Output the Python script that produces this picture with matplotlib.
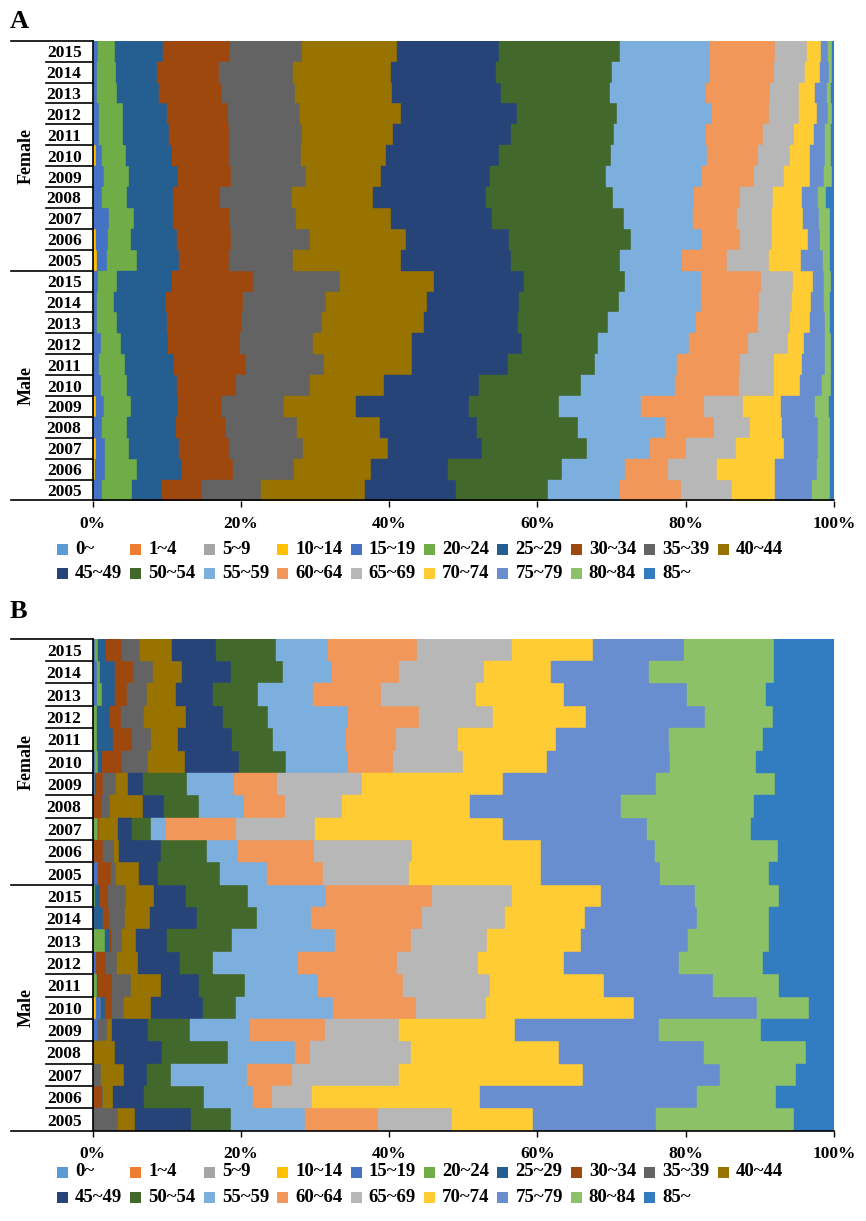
import numpy as np
import matplotlib
matplotlib.use("Agg")
import matplotlib.pyplot as plt
from matplotlib.patches import Rectangle

plt.rcParams['font.family'] = ['Liberation Serif', 'DejaVu Serif']
plt.rcParams['font.weight'] = 'bold'

# ---------------- data ----------------
age_groups = ['0~', '1~4', '5~9', '10~14', '15~19', '20~24', '25~29', '30~34', '35~39', '40~44',
              '45~49', '50~54', '55~59', '60~64', '65~69', '70~74', '75~79', '80~84', '85~']
colors = ['#5B9BD5', '#ED7D31', '#A5A5A5', '#FFC000', '#4472C4', '#70AD47', '#255E91', '#9E480E',
          '#636363', '#997300', '#264478', '#43682B', '#7CAFDD', '#F1975A', '#B7B7B7', '#FFCD33',
          '#698ED0', '#8CC168', '#327DC2']
years = ['2015', '2014', '2013', '2012', '2011', '2010', '2009', '2008', '2007', '2006', '2005']
sexes = ['Female', 'Male']
x_ticks = [0, 20, 40, 60, 80, 100]
x_tick_labels = ['0%', '20%', '40%', '60%', '80%', '100%']

# Panel A (percent share of each age group), rows top to bottom
a_female_2015 = [0.05, 0.05, 0.05, 0.05, 0.47, 2.34, 6.52, 9.00, 9.71, 12.82, 13.77, 16.33, 12.14, 8.77, 4.28, 1.89, 0.94, 0.54, 0.28]
a_female_2014 = [0.05, 0.05, 0.05, 0.05, 0.43, 2.47, 5.62, 8.32, 9.94, 13.32, 14.12, 15.61, 13.18, 8.64, 4.27, 2.03, 1.12, 0.45, 0.28]
a_female_2013 = [0.05, 0.05, 0.05, 0.05, 0.43, 2.65, 5.71, 8.41, 9.90, 13.13, 14.66, 14.63, 13.04, 8.55, 3.91, 2.25, 1.58, 0.54, 0.41]
a_female_2012 = [0.05, 0.05, 0.05, 0.05, 0.70, 3.23, 5.94, 8.14, 9.76, 13.68, 15.56, 13.50, 12.82, 7.64, 4.10, 2.43, 1.44, 0.58, 0.28]
a_female_2011 = [0.05, 0.05, 0.05, 0.05, 0.61, 3.23, 6.30, 8.01, 9.85, 12.32, 15.88, 13.86, 12.50, 7.60, 4.28, 2.70, 1.48, 0.77, 0.41]
a_female_2010 = [0.05, 0.05, 0.05, 0.25, 0.81, 3.28, 6.16, 7.79, 9.67, 11.42, 15.30, 15.11, 12.91, 6.84, 4.32, 2.70, 2.02, 0.86, 0.41]
a_female_2009 = [0.05, 0.05, 0.05, 0.05, 1.37, 3.37, 6.61, 7.11, 10.12, 10.17, 14.66, 15.66, 12.91, 6.97, 4.05, 3.51, 1.89, 1.12, 0.28]
a_female_2008 = [0.05, 0.05, 0.05, 0.05, 1.10, 3.33, 6.16, 6.39, 9.71, 10.98, 15.16, 17.14, 10.97, 6.12, 4.45, 4.01, 2.07, 1.12, 1.09]
a_female_2007 = [0.05, 0.05, 0.05, 0.05, 1.95, 3.38, 5.35, 7.65, 8.95, 12.82, 13.63, 17.68, 9.31, 5.98, 4.72, 4.19, 2.20, 1.49, 0.50]
a_female_2006 = [0.05, 0.05, 0.05, 0.25, 1.62, 3.15, 6.16, 7.33, 10.62, 12.99, 13.95, 16.38, 9.58, 5.17, 4.27, 4.86, 1.58, 1.44, 0.50]
a_female_2005 = [0.05, 0.05, 0.05, 0.40, 1.38, 4.05, 5.71, 6.75, 8.63, 14.49, 14.88, 14.72, 8.32, 6.07, 5.62, 4.37, 2.92, 1.04, 0.50]
a_male_2015 = [0.05, 0.05, 0.05, 0.05, 0.47, 2.56, 7.51, 10.85, 11.78, 12.68, 12.19, 13.50, 10.30, 8.14, 4.23, 2.70, 1.49, 0.99, 0.41]
a_male_2014 = [0.05, 0.05, 0.05, 0.05, 0.33, 2.34, 7.02, 10.35, 11.20, 13.62, 12.51, 13.36, 11.11, 7.87, 4.41, 2.61, 1.67, 0.90, 0.50]
a_male_2013 = [0.05, 0.05, 0.05, 0.05, 0.42, 2.70, 6.66, 10.12, 10.80, 13.80, 12.69, 12.10, 11.88, 8.32, 4.41, 2.61, 2.11, 0.68, 0.50]
a_male_2012 = [0.05, 0.05, 0.05, 0.05, 0.92, 2.70, 6.38, 9.68, 9.89, 13.31, 14.89, 10.26, 12.15, 8.00, 5.36, 2.25, 2.83, 0.77, 0.41]
a_male_2011 = [0.05, 0.05, 0.05, 0.05, 0.69, 3.47, 6.61, 9.72, 10.52, 11.87, 12.93, 11.77, 11.02, 8.46, 4.59, 3.82, 3.06, 0.86, 0.41]
a_male_2010 = [0.05, 0.05, 0.05, 0.05, 0.87, 3.51, 6.84, 7.92, 9.98, 9.99, 12.86, 13.72, 12.60, 8.64, 4.72, 3.60, 2.92, 1.22, 0.41]
a_male_2009 = [0.05, 0.05, 0.05, 0.35, 1.02, 3.60, 6.43, 5.85, 8.46, 9.67, 15.25, 12.14, 11.07, 8.41, 5.27, 5.17, 4.63, 1.80, 0.73]
a_male_2008 = [0.05, 0.05, 0.05, 0.05, 1.05, 3.38, 6.56, 6.80, 9.53, 11.25, 13.04, 13.63, 11.70, 6.61, 4.95, 4.27, 4.82, 1.62, 0.59]
a_male_2007 = [0.05, 0.05, 0.05, 0.35, 1.11, 3.33, 6.75, 6.66, 10.07, 11.47, 12.60, 14.17, 8.55, 4.85, 6.75, 6.48, 4.50, 1.62, 0.59]
a_male_2006 = [0.05, 0.05, 0.05, 0.20, 1.26, 4.32, 6.07, 6.98, 8.18, 10.35, 10.48, 15.29, 8.55, 5.71, 6.66, 7.87, 5.63, 1.71, 0.59]
a_male_2005 = [0.05, 0.05, 0.05, 0.05, 1.01, 4.09, 4.01, 5.44, 7.96, 14.03, 12.24, 12.50, 9.68, 8.23, 6.84, 5.84, 4.95, 2.39, 0.59]

# Panel B
b_female_2015 = [0.04, 0.04, 0.04, 0.04, 0.13, 0.46, 1.03, 2.21, 2.38, 4.27, 5.94, 8.14, 7.07, 12.00, 12.73, 10.94, 12.32, 12.06, 8.15]
b_female_2014 = [0.04, 0.04, 0.04, 0.04, 0.36, 0.45, 2.03, 2.47, 2.61, 3.91, 6.66, 7.06, 6.52, 9.09, 11.51, 9.00, 13.23, 16.78, 8.15]
b_female_2013 = [0.04, 0.04, 0.04, 0.04, 0.36, 0.77, 1.71, 1.57, 2.70, 3.91, 5.00, 6.07, 7.51, 9.13, 12.82, 11.88, 16.55, 10.66, 9.19]
b_female_2012 = [0.04, 0.04, 0.04, 0.04, 0.08, 0.37, 1.71, 1.44, 3.15, 5.62, 5.00, 6.16, 10.70, 9.67, 9.99, 12.51, 16.06, 9.08, 8.29]
b_female_2011 = [0.04, 0.04, 0.04, 0.04, 0.08, 0.37, 2.16, 2.57, 2.52, 3.68, 7.20, 5.62, 9.76, 6.80, 8.32, 13.22, 15.21, 12.68, 9.64]
b_female_2010 = [0.04, 0.04, 0.04, 0.04, 0.13, 0.46, 0.45, 2.70, 3.60, 4.94, 7.29, 6.30, 8.36, 6.08, 9.53, 11.25, 16.64, 11.56, 10.54]
b_female_2009 = [0.04, 0.04, 0.04, 0.04, 0.10, 0.10, 0.08, 0.98, 1.71, 1.67, 2.02, 5.85, 6.43, 5.71, 11.47, 19.03, 20.70, 15.96, 8.02]
b_female_2008 = [0.025, 0.025, 0.025, 0.025, 0.025, 0.025, 0.025, 1.04, 1.12, 4.50, 2.79, 4.77, 6.03, 5.53, 7.73, 17.23, 20.38, 17.86, 10.85]
b_female_2007 = [0.04, 0.04, 0.04, 0.04, 0.04, 0.50, 0.05, 0.05, 0.05, 2.55, 1.89, 2.61, 1.98, 9.44, 10.62, 25.41, 19.44, 14.03, 11.21]
b_female_2006 = [0.025, 0.025, 0.025, 0.025, 0.025, 0.025, 0.025, 1.26, 1.49, 0.67, 5.63, 6.16, 4.18, 10.35, 13.22, 17.36, 15.30, 16.64, 7.57]
b_female_2005 = [0.04, 0.04, 0.04, 0.04, 0.50, 0.03, 0.03, 1.74, 0.67, 3.11, 2.61, 8.32, 6.38, 7.56, 11.56, 17.81, 16.07, 14.61, 8.83]
b_male_2015 = [0.04, 0.04, 0.04, 0.04, 0.05, 0.09, 0.67, 1.13, 2.38, 3.83, 4.27, 8.41, 10.48, 14.35, 10.79, 11.93, 12.64, 11.33, 7.48]
b_male_2014 = [0.04, 0.04, 0.04, 0.04, 0.03, 0.02, 1.12, 0.90, 2.12, 3.37, 6.39, 8.09, 7.20, 14.98, 11.24, 10.80, 15.07, 9.67, 8.83]
b_male_2013 = [0.04, 0.04, 0.04, 0.04, 0.03, 1.53, 0.67, 0.23, 1.35, 1.93, 4.14, 8.68, 13.94, 10.21, 10.26, 12.73, 14.40, 10.97, 8.74]
b_male_2012 = [0.04, 0.04, 0.04, 0.04, 0.25, 0.02, 0.02, 1.29, 1.57, 2.75, 5.71, 4.41, 11.56, 13.27, 11.02, 11.60, 15.52, 11.25, 9.59]
b_male_2011 = [0.04, 0.04, 0.04, 0.04, 0.03, 0.45, 0.02, 2.00, 2.48, 4.05, 5.12, 6.21, 9.90, 11.38, 11.78, 15.39, 14.62, 8.99, 7.39]
b_male_2010 = [0.04, 0.04, 0.04, 0.36, 0.59, 0.02, 0.52, 0.99, 1.62, 3.60, 7.06, 4.50, 13.04, 11.11, 9.49, 19.98, 16.55, 7.06, 3.34]
b_male_2009 = [0.04, 0.04, 0.04, 0.04, 0.50, 0.02, 0.02, 0.02, 1.15, 0.68, 4.95, 5.62, 8.10, 10.12, 9.98, 15.65, 19.44, 13.72, 9.86]
b_male_2008 = [0.025, 0.025, 0.025, 0.025, 0.025, 0.025, 0.025, 0.025, 0.025, 2.84, 6.30, 8.90, 9.09, 2.02, 13.58, 20.02, 19.57, 13.72, 3.79]
b_male_2007 = [0.02, 0.02, 0.02, 0.02, 0.02, 0.02, 0.02, 0.02, 0.95, 3.10, 3.15, 3.15, 10.26, 6.16, 14.44, 24.73, 18.54, 10.26, 5.09]
b_male_2006 = [0.025, 0.025, 0.025, 0.025, 0.025, 0.025, 0.025, 1.13, 0.02, 1.46, 4.14, 8.10, 6.56, 2.66, 5.40, 22.62, 29.24, 10.66, 7.84]
b_male_2005 = [0.02, 0.02, 0.02, 0.02, 0.02, 0.02, 0.02, 0.02, 3.20, 2.34, 7.55, 5.40, 9.99, 9.89, 9.90, 10.93, 16.65, 18.53, 5.45]

rows_a = [a_female_2015, a_female_2014, a_female_2013, a_female_2012, a_female_2011, a_female_2010,
          a_female_2009, a_female_2008, a_female_2007, a_female_2006, a_female_2005,
          a_male_2015, a_male_2014, a_male_2013, a_male_2012, a_male_2011, a_male_2010,
          a_male_2009, a_male_2008, a_male_2007, a_male_2006, a_male_2005]
rows_b = [b_female_2015, b_female_2014, b_female_2013, b_female_2012, b_female_2011, b_female_2010,
          b_female_2009, b_female_2008, b_female_2007, b_female_2006, b_female_2005,
          b_male_2015, b_male_2014, b_male_2013, b_male_2012, b_male_2011, b_male_2010,
          b_male_2009, b_male_2008, b_male_2007, b_male_2006, b_male_2005]

# ---------------- layout ----------------
W, H = 866, 1221
fig = plt.figure(figsize=(W / 100, H / 100), dpi=100)
fig.patch.set_facecolor('white')


def rect(x0, y0, x1, y1):
    return [x0 / W, 1 - y1 / H, (x1 - x0) / W, (y1 - y0) / H]


def fx(x):
    return x / W


def fy(y):
    return 1 - y / H


FS = 12.5
LEG_FS = 13.5


def draw_panel(ax, rows):
    data = np.array(rows, dtype=float)
    data = data / data.sum(axis=1, keepdims=True) * 100.0
    n = data.shape[0]
    ypos = np.arange(n)[::-1]
    left = np.zeros(n)
    for j, col in enumerate(colors):
        ax.barh(ypos, data[:, j], left=left, height=1.0, color=col,
                edgecolor=col, linewidth=0.3)
        left += data[:, j]
    ax.set_xlim(0, 100)
    ax.set_ylim(-0.5, n - 0.5)
    for s in ['top', 'right', 'bottom']:
        ax.spines[s].set_visible(False)
    ax.spines['left'].set_linewidth(1.2)
    ax.spines['left'].set_color('black')
    ax.set_xticks(x_ticks)
    ax.set_xticklabels(x_tick_labels, fontsize=FS, fontweight='bold')
    ax.tick_params(axis='x', direction='out', length=4, width=1, pad=7, color='black')
    labels = years + years
    ax.set_yticks(ypos)
    ax.set_yticklabels(labels, fontsize=FS, fontweight='bold')
    ax.tick_params(axis='y', length=0, pad=8)
    # axis line at bottom, extended left
    x_long = -82.0 / 741.3
    x_short = -47.0 / 741.3
    ax.plot([x_long, 1.0], [-0.5, -0.5], color='black', lw=1.2,
            transform=ax.get_yaxis_transform(), clip_on=False)
    for b in range(1, n + 1):
        y = b - 0.5
        if b in (11, 22):
            x0 = x_long
        else:
            x0 = x_short
        ax.plot([x0, 0.0], [y, y], color='black', lw=1.2,
                transform=ax.get_yaxis_transform(), clip_on=False)
    ax.text(-67.0 / 741.3, 16, sexes[0], rotation=90, ha='center', va='center',
            fontsize=FS + 0.5, fontweight='bold', transform=ax.get_yaxis_transform())
    ax.text(-67.0 / 741.3, 5, sexes[1], rotation=90, ha='center', va='center',
            fontsize=FS + 0.5, fontweight='bold', transform=ax.get_yaxis_transform())


def draw_legend(y_row1, y_row2):
    x_start = 57.0
    pitch = 73.4
    for i, (lab, col) in enumerate(zip(age_groups, colors)):
        r = 0 if i < 10 else 1
        c = i if i < 10 else i - 10
        x = x_start + c * pitch
        y = y_row1 if r == 0 else y_row2
        fig.add_artist(Rectangle((fx(x), fy(y + 5.5)), 11 / W, 11 / H,
                                 transform=fig.transFigure, facecolor=col, edgecolor='none'))
        fig.text(fx(x + 18), fy(y), lab, ha='left', va='center', fontsize=LEG_FS, fontweight='bold')


axA = fig.add_axes(rect(92.7, 40.7, 834, 500.5))
draw_panel(axA, rows_a)
axB = fig.add_axes(rect(92.7, 638.7, 834, 1130.7))
draw_panel(axB, rows_b)

draw_legend(549, 573)
draw_legend(1172, 1197)

fig.text(fx(10), fy(22), 'A', ha='left', va='center', fontsize=19, fontweight='bold')
fig.text(fx(10), fy(612), 'B', ha='left', va='center', fontsize=19, fontweight='bold')

fig.savefig('out.png', dpi=100, facecolor='white')
